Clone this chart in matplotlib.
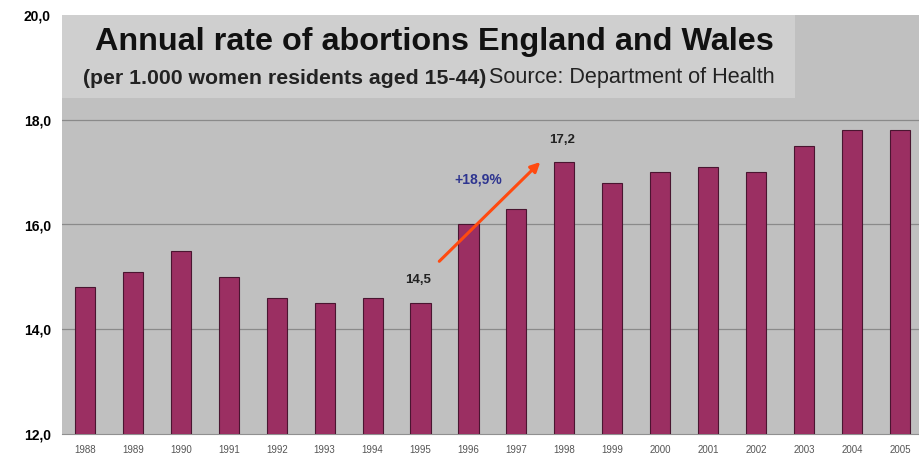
import matplotlib
matplotlib.use("Agg")
import matplotlib.pyplot as plt
from matplotlib.patches import Rectangle

years = ["1988", "1989", "1990", "1991", "1992", "1993", "1994", "1995", "1996",
         "1997", "1998", "1999", "2000", "2001", "2002", "2003", "2004", "2005"]
rates = [14.8, 15.1, 15.5, 15.0, 14.6, 14.5, 14.6, 14.5, 16.0,
         16.3, 17.2, 16.8, 17.0, 17.1, 17.0, 17.5, 17.8, 17.8]
yticks = [12.0, 14.0, 16.0, 18.0, 20.0]
ytick_labels = ["12,0", "14,0", "16,0", "18,0", "20,0"]

plt.rcParams['font.family'] = ['Liberation Sans', 'DejaVu Sans']

W, H = 919, 461
fig = plt.figure(figsize=(W / 100, H / 100), dpi=100)
fig.patch.set_facecolor("white")
left, right = 62 / W, 1.0
bottom, top = 1 - 434 / H, 1 - 15 / H
ax = fig.add_axes([left, bottom, right - left, top - bottom])
ax.set_facecolor("#c0c0c0")

x = list(range(len(years)))
ax.bar(x, rates, width=0.42, color="#9b2f62", edgecolor="#4a1530", linewidth=0.8, zorder=3)

ax.set_ylim(12, 20)
ax.set_xlim(-0.48, 17.4)
ax.set_yticks(yticks)
ax.set_yticklabels(ytick_labels, fontsize=10, fontweight="bold")
ax.set_xticks(x)
ax.set_xticklabels(years, fontsize=7, color="#555555")
ax.tick_params(axis="y", length=0, pad=8)
ax.tick_params(axis="x", length=0, pad=8)
for yv in [14, 16, 18]:
    ax.axhline(yv, color="#8a8a8a", linewidth=0.9, zorder=1)
for s in ["top", "right", "left"]:
    ax.spines[s].set_visible(False)
ax.spines["bottom"].set_color("#909090")

# title box
box = Rectangle((62 / W, 1 - 98 / H), (795 - 62) / W, (98 - 15) / H,
                transform=fig.transFigure, facecolor="#cfcfcf", edgecolor="none", zorder=0)
ax.add_patch(box)
box.set_clip_on(False)
box.set_zorder(2)

fig.text(95 / W, 1 - 42 / H, "Annual rate of abortions England and Wales",
         fontsize=23.3, fontweight="bold", color="#111111", va="center", ha="left", zorder=5)
t1 = fig.text(83 / W, 1 - 78 / H, "(per 1.000 women residents aged 15-44)",
              fontsize=15.3, fontweight="bold", color="#222222", va="center", ha="left")
fig.canvas.draw()
bb = t1.get_window_extent()
fig.text(bb.x1 / W + 3 / W, 1 - 78 / H, "Source: Department of Health",
         fontsize=15.6, color="#222222", va="center", ha="left")

# annotations
ax.annotate("", xy=(9.54, 17.23), xytext=(7.35, 15.26),
            arrowprops=dict(arrowstyle="-|>", color="#ff4a10", lw=2.2, mutation_scale=14), zorder=6)
ax.text(6.95, 14.94, "14,5", fontsize=9.5, fontweight="bold", color="#222222", ha="center", va="center", zorder=6)
ax.text(9.96, 17.62, "17,2", fontsize=9.5, fontweight="bold", color="#222222", ha="center", va="center", zorder=6)
ax.text(8.2, 16.85, "+18,9%", fontsize=10, fontweight="bold", color="#2e3590", ha="center", va="center", zorder=6)

fig.savefig("out.png", dpi=100)
